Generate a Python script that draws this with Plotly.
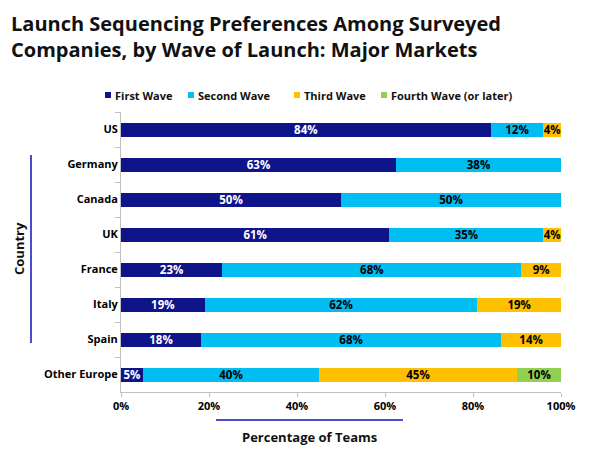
import plotly.graph_objects as go

countries = ["US", "Germany", "Canada", "UK", "France", "Italy", "Spain", "Other Europe"]
first_wave = [84, 62.5, 50, 61, 23, 19, 18.2, 5]
second_wave = [12, 37.5, 50, 35, 68, 62, 68.2, 40]
third_wave = [4, 0, 0, 4, 9, 19, 13.6, 45]
fourth_wave = [0, 0, 0, 0, 0, 0, 0, 10]
series_names = ["First Wave", "Second Wave", "Third Wave", "Fourth Wave (or later)"]
x_ticks = [0, 20, 40, 60, 80, 100]

colors = ["#0F1489", "#00BDF2", "#FFC000", "#92D050"]
text_colors = ["white", "black", "black", "black"]
series_values = [first_wave, second_wave, third_wave, fourth_wave]

FONT = "Open Sans"
W, H = 600, 450
L, R, T, B = 121, 39, 112, 58
PW, PH = W - L - R, H - T - B

def px_x(px):
    return (px - L) / PW

def px_y(py):
    return (T + PH - py) / PH

fig = go.Figure()
for name, vals, color, tcolor in zip(series_names, series_values, colors, text_colors):
    texts = [("%d%%" % int(v + 0.5)) if v > 0 else "" for v in vals]
    fig.add_trace(go.Bar(
        y=countries, x=vals, name=name, orientation="h",
        marker=dict(color=color, line=dict(width=0)),
        text=texts, textposition="inside", insidetextanchor="middle",
        constraintext="none",
        textfont=dict(family=FONT, size=11.5, color=tcolor, weight="bold"),
        hoverinfo="skip", showlegend=False,
    ))

fig.update_layout(
    width=W, height=H,
    barmode="stack", bargap=0.6,
    paper_bgcolor="white", plot_bgcolor="white",
    margin=dict(l=L, r=R, t=T, b=B),
    font=dict(family=FONT, color="black"),
    showlegend=False,
    xaxis=dict(
        range=[0, 100], tickvals=x_ticks, ticktext=[f"{t}%" for t in x_ticks],
        showgrid=False, zeroline=False, showline=True, linecolor="#BFBFBF",
        ticks="outside", ticklen=4, tickcolor="#BFBFBF",
        tickfont=dict(family=FONT, size=11, weight="bold"),
        automargin=False,
    ),
    yaxis=dict(
        autorange="reversed", showgrid=False, showline=True, linecolor="#BFBFBF",
        ticks="outside", tickson="boundaries", ticklen=5, tickcolor="#BFBFBF",
        tickfont=dict(family=FONT, size=11, weight="bold"),
        automargin=False,
    ),
)

# legend (swatch + label) placed like the reference
legend_x = [105, 188, 294, 381]
for name, color, lx in zip(series_names, colors, legend_x):
    fig.add_shape(type="rect", xref="paper", yref="paper",
                  x0=px_x(lx), x1=px_x(lx + 6), y0=px_y(92), y1=px_y(98),
                  fillcolor=color, line=dict(width=0))
    fig.add_annotation(text=f"<b>{name}</b>", xref="paper", yref="paper",
                       x=px_x(lx + 8), y=px_y(95), xanchor="left", yanchor="middle",
                       showarrow=False,
                       font=dict(family=FONT, size=11, color="#111111"))

fig.add_annotation(
    text="<b>Launch Sequencing Preferences Among Surveyed<br>Companies, by Wave of Launch: Major Markets</b>",
    xref="paper", yref="paper", x=px_x(9), y=px_y(8), xanchor="left", yanchor="top",
    align="left", showarrow=False,
    font=dict(family=FONT, size=20, color="#111111"),
)
fig.add_annotation(text="<b>Percentage of Teams</b>", xref="paper", yref="paper",
                   x=px_x(309), y=px_y(437), xanchor="center", yanchor="middle",
                   showarrow=False, font=dict(family=FONT, size=13, color="#111111"))
fig.add_annotation(text="<b>Country</b>", xref="paper", yref="paper",
                   x=px_x(19), y=px_y(249), xanchor="center", yanchor="middle",
                   showarrow=False, textangle=-90,
                   font=dict(family=FONT, size=13, color="#111111"))

fig.add_shape(type="line", xref="paper", yref="paper",
              x0=px_x(31), x1=px_x(31), y0=px_y(155), y1=px_y(343),
              line=dict(color="#1010C0", width=1.5))
fig.add_shape(type="line", xref="paper", yref="paper",
              x0=px_x(216), x1=px_x(403), y0=px_y(420), y1=px_y(420),
              line=dict(color="#1010C0", width=1.5))

fig.write_html("out.html")
